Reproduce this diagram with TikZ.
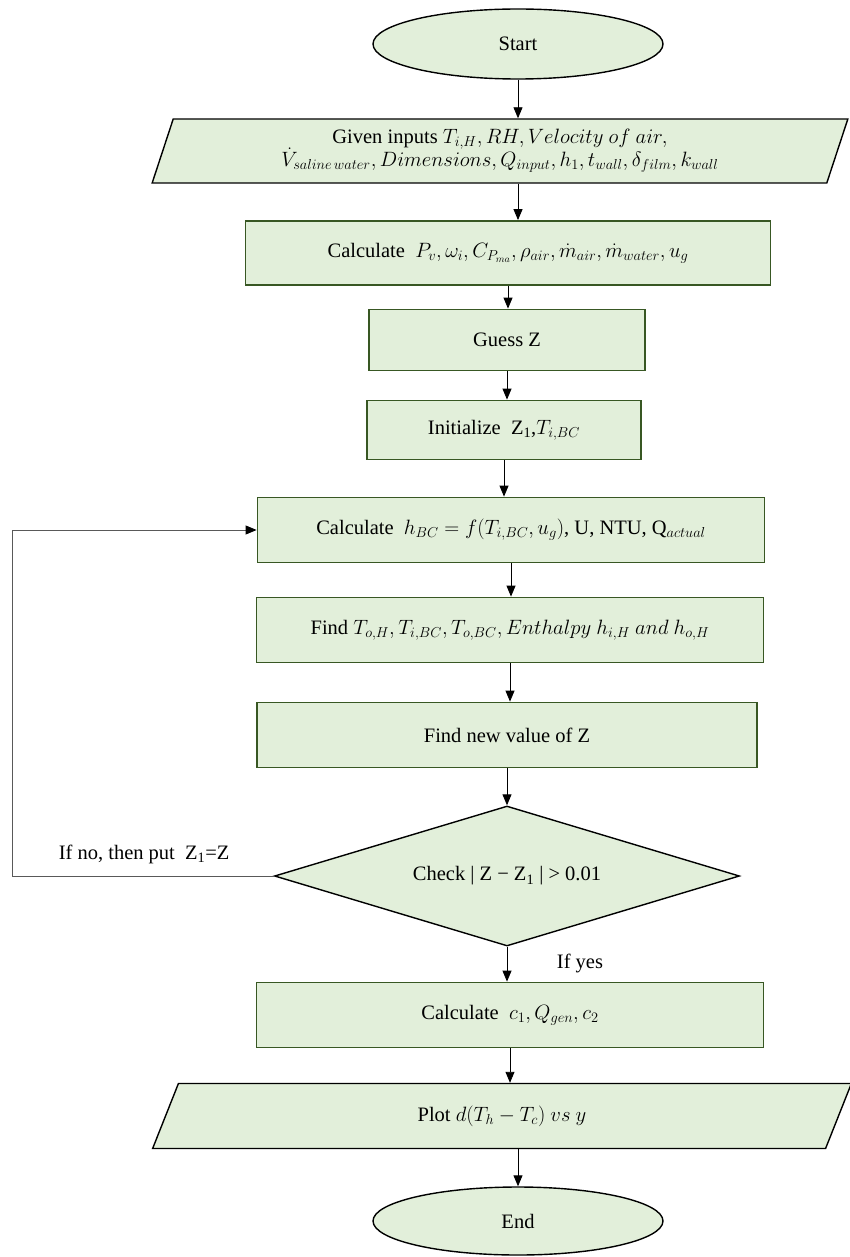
\documentclass[tikz,border=0pt]{standalone}
\usepackage{fontspec}
\setmainfont{Liberation Serif}
\usetikzlibrary{shapes.geometric,arrows.meta}
\definecolor{boxfill}{HTML}{E2EFDA}
\definecolor{boxline}{HTML}{385723}
\definecolor{loopgray}{HTML}{595959}

\begin{document}
\begin{tikzpicture}[x=1pt,y=-1pt,font=\fontsize{20.5}{25}\selectfont,
    terminal/.style={ellipse,draw=black,line width=1.4pt,fill=boxfill,minimum width=290pt,minimum height=70pt,inner sep=0pt},
    dataio/.style={trapezium,trapezium left angle=72,trapezium right angle=108,trapezium stretches=true,draw=black,line width=1.4pt,fill=boxfill,minimum width=700pt,minimum height=64pt,inner sep=0pt,align=center},
    process/.style={rectangle,draw=boxline,line width=1.8pt,fill=boxfill,minimum width=507pt,minimum height=65pt,inner sep=0pt,align=center},
    decision/.style={diamond,aspect=3.3,draw=black,line width=1.4pt,fill=boxfill,minimum width=465pt,minimum height=140pt,inner sep=0pt},
    arr/.style={-{Triangle[length=11pt,width=9pt,color=black]},line width=0.9pt}]
\useasboundingbox (0,0) rectangle (850,1257);
\node[terminal] (start) at (518,44) {Start};
\node[dataio] (input) at (500,151) {Given inputs $T_{i,H}, RH, Velocity\ of\ air,$\\[-2pt]
    $\dot{V}_{saline\,water}, Dimensions, Q_{input}, h_1, t_{wall}, \delta_{film}, k_{wall}$};
\node[process,minimum width=525pt,minimum height=64pt] (calc) at (508,253) {Calculate~~$P_v, \omega_i, C_{P_{ma}}, \rho_{air}, \dot{m}_{air}, \dot{m}_{water}, u_g$};
\node[process,minimum width=276pt,minimum height=61pt] (guess) at (507,340) {Guess Z};
\node[process,minimum width=274pt,minimum height=59pt] (init) at (504,430) {Initialize~~Z\textsubscript{1},$T_{i,BC}$};
\node[process] (hbc) at (511,530) {Calculate~~$h_{BC} = f\big(T_{i,BC}, u_g\big)$, U, NTU, Q$_{actual}$};
\node[process] (findt) at (510,630) {Find $T_{o,H}, T_{i,BC}, T_{o,BC}, Enthalpy\ h_{i,H}\ and\ h_{o,H}$};
\node[process,minimum width=500pt] (findz) at (507,735) {Find new value of Z};
\node[decision] (check) at (507,876) {Check | Z − Z\textsubscript{1} | > 0.01};
\node[process] (coef) at (510,1015) {Calculate~~$c_1, Q_{gen}, c_2$};
\node[dataio,minimum height=65pt] (plot) at (502,1116) {Plot $d(T_h - T_c)\ vs\ y$};
\node[terminal,minimum height=68pt] (end) at (518,1221) {End};
\coordinate (loopx) at (12,0);
% main flow
\draw[arr] (start.south) -- (start.south |- input.north);
\draw[arr] (input.south -| start) -- (start |- calc.north);
\draw[arr] (calc.south) -- (calc.south |- guess.north);
\draw[arr] (guess.south) -- (guess.south |- init.north);
\draw[arr] (init.south) -- (init.south |- hbc.north);
\draw[arr] (hbc.south) -- (hbc.south |- findt.north);
\draw[arr] (findt.south) -- (findt.south |- findz.north);
\draw[arr] (findz.south) -- (check.north);
\draw[arr] (check.south) -- (check.south |- coef.north);
\draw[arr] (coef.south) -- (coef.south |- plot.north);
\draw[arr] (plot.south -| end) -- (end.north);
% loop back
\draw[arr,draw=loopgray] (check.west) -- (check.west -| loopx) |- (hbc.west);
\node[anchor=base east] (nolabel) at (233,859) {If no, then put~~Z\textsubscript{1}=Z};
\node (yeslabel) at (580,963) {If yes};
\end{tikzpicture}
\end{document}
